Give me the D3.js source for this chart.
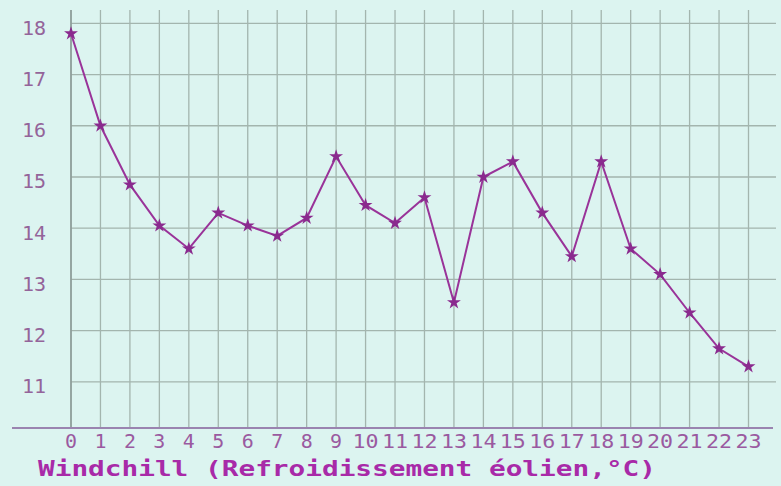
<!DOCTYPE html>
<html>
<head>
<meta charset="utf-8">
<script src="https://cdn.jsdelivr.net/npm/d3@7"></script>
<style>
  body { margin: 0; background: #dcf4f0; }
</style>
</head>
<body>
<div id="chart"></div>
<script>
var hours = [0,1,2,3,4,5,6,7,8,9,10,11,12,13,14,15,16,17,18,19,20,21,22,23];
var windchill = [17.8,16.0,14.85,14.05,13.6,14.3,14.05,13.85,14.2,15.4,14.45,14.1,14.6,12.55,15.0,15.3,14.3,13.45,15.3,13.6,13.1,12.35,11.65,11.3];
var yTicks = [11,12,13,14,15,16,17,18];
var titel = "Windchill (Refroidissement éolien,°C)";

var width = 781, height = 486;

var svg = d3.select("#chart")
    .append("svg")
        .attr("width", width)
        .attr("height", height)
        .style("background-color", "#dcf4f0");

var x = d3.scaleLinear()
    .domain([0, 23])
    .range([71, 748.5]);

var y = d3.scaleLinear()
    .domain([10.1, 18.26])
    .range([428, 10]);

// rutenett
svg.append("g")
    .selectAll("line")
    .data(hours)
    .enter()
    .append("line")
    .attr("x1", function(d){ return x(d); })
    .attr("x2", function(d){ return x(d); })
    .attr("y1", y(18.26))
    .attr("y2", y(10.1))
    .attr("stroke", "#a3b5ae")
    .attr("stroke-width", 1.3);

svg.append("g")
    .selectAll("line")
    .data(yTicks)
    .enter()
    .append("line")
    .attr("x1", x(0))
    .attr("x2", 776)
    .attr("y1", function(d){ return y(d); })
    .attr("y2", function(d){ return y(d); })
    .attr("stroke", "#a3b5ae")
    .attr("stroke-width", 1.3);

// akser
svg.append("line")
    .attr("x1", x(0)).attr("x2", x(0))
    .attr("y1", y(18.26)).attr("y2", y(10.1))
    .attr("stroke", "#8a9a96")
    .attr("stroke-width", 1.5);

svg.append("line")
    .attr("x1", 12).attr("x2", 773)
    .attr("y1", y(10.1)).attr("y2", y(10.1))
    .attr("stroke", "#9a84b0")
    .attr("stroke-width", 2);

svg.append("g")
    .selectAll("text")
    .data(yTicks)
    .enter()
    .append("text")
    .attr("x", 46)
    .attr("y", function(d){ return y(d) + 6; })
    .attr("text-anchor", "end")
    .attr("dominant-baseline", "middle")
    .attr("font-family", "DejaVu Sans Mono")
    .attr("font-size", 20)
    .attr("fill", "#94649a")
    .text(function(d){ return d; });

svg.append("g")
    .selectAll("text")
    .data(hours)
    .enter()
    .append("text")
    .attr("x", function(d){ return x(d); })
    .attr("y", 448)
    .attr("text-anchor", "middle")
    .attr("font-family", "DejaVu Sans Mono")
    .attr("font-size", 20)
    .attr("textLength", function(d){ return d < 10 ? 12 : 26; })
    .attr("lengthAdjust", "spacingAndGlyphs")
    .attr("fill", "#9a5aa0")
    .text(function(d){ return d; });

svg.append("text")
    .attr("x", 38)
    .attr("y", 476)
    .attr("font-family", "DejaVu Sans Mono")
    .attr("font-weight", "bold")
    .attr("font-size", 21)
    .attr("textLength", 618)
    .attr("lengthAdjust", "spacingAndGlyphs")
    .attr("fill", "#a82aa8")
    .text(titel);

// linje og punkter
var linje = d3.line()
    .x(function(d, i){ return x(hours[i]); })
    .y(function(d){ return y(d); });

svg.append("path")
    .datum(windchill)
    .attr("d", linje)
    .attr("fill", "none")
    .attr("stroke", "#993399")
    .attr("stroke-width", 2);

svg.selectAll(".punkt")
    .data(windchill)
    .enter()
    .append("path")
    .attr("class", "punkt")
    .attr("d", d3.symbol().type(d3.symbolStar).size(60))
    .attr("transform", function(d, i){ return "translate(" + x(hours[i]) + "," + y(d) + ")"; })
    .attr("fill", "#8a2a8e");
</script>
</body>
</html>
